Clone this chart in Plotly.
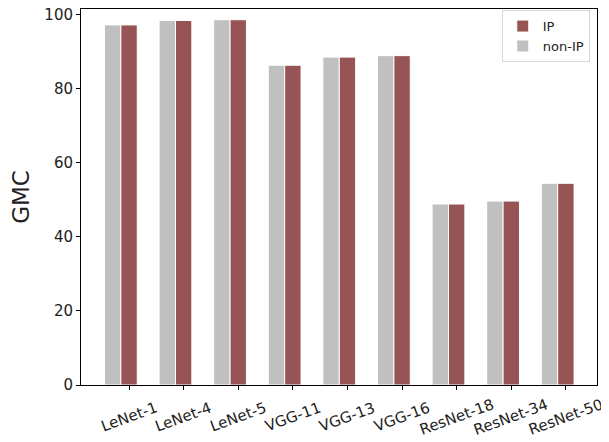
import plotly.graph_objects as go

models = ["LeNet-1", "LeNet-4", "LeNet-5", "VGG-11", "VGG-13", "VGG-16", "ResNet-18", "ResNet-34", "ResNet-50"]
ip_values = [97.3, 98.5, 98.7, 86.4, 88.6, 89.0, 48.9, 49.7, 54.5]
non_ip_values = [97.3, 98.5, 98.7, 86.4, 88.6, 89.0, 48.9, 49.7, 54.5]
y_ticks = [0, 20, 40, 60, 80, 100]

RED = "#965454"
GRAY = "#c0c0c0"
bar_w = 0.3

pos = list(range(len(models)))

fig = go.Figure()
fig.add_trace(go.Bar(
    x=[p - bar_w for p in pos], y=non_ip_values, width=bar_w, name="non-IP",
    marker=dict(color=GRAY, line=dict(color="white", width=1)), legendrank=2,
))
fig.add_trace(go.Bar(
    x=pos, y=ip_values, width=bar_w, name="IP",
    marker=dict(color=RED, line=dict(color="white", width=1)), legendrank=1,
))

# category labels, centred under each tick and rotated like the reference
for p, name in zip(pos, models):
    fig.add_annotation(
        x=p, y=0, xref="x", yref="paper", text=name, showarrow=False,
        textangle=-20, xanchor="center", yanchor="middle", yshift=-32,
        font=dict(family="DejaVu Sans", size=15, color="#222"),
    )

fig.update_layout(
    width=601, height=434,
    margin=dict(l=73, r=12, t=1, b=57),
    plot_bgcolor="white", paper_bgcolor="white",
    font=dict(family="DejaVu Sans", size=14, color="#222"),
    barmode="overlay",
    showlegend=True,
    legend=dict(x=0.986, y=0.997, xanchor="right", yanchor="top",
                bordercolor="#d8d8d8", borderwidth=1, bgcolor="white",
                font=dict(size=13), traceorder="normal"),
)
fig.update_xaxes(
    range=[-0.88, 8.57], tickmode="array", tickvals=pos, ticktext=[""] * len(pos),
    ticks="outside", ticklen=4, tickcolor="black",
    showline=True, linecolor="black", linewidth=1, mirror=True,
    showgrid=False, zeroline=False, automargin=False,
)
fig.update_yaxes(
    range=[0, 101.6], tickmode="array", tickvals=y_ticks,
    ticks="outside", ticklen=4, tickcolor="black",
    showline=True, linecolor="black", linewidth=1, mirror=True,
    showgrid=False, zeroline=False, tickfont=dict(size=15), automargin=False,
    ticklabeloverflow="allow",
    title=dict(text="GMC", font=dict(size=23), standoff=17),
)

fig.write_html("out.html")
